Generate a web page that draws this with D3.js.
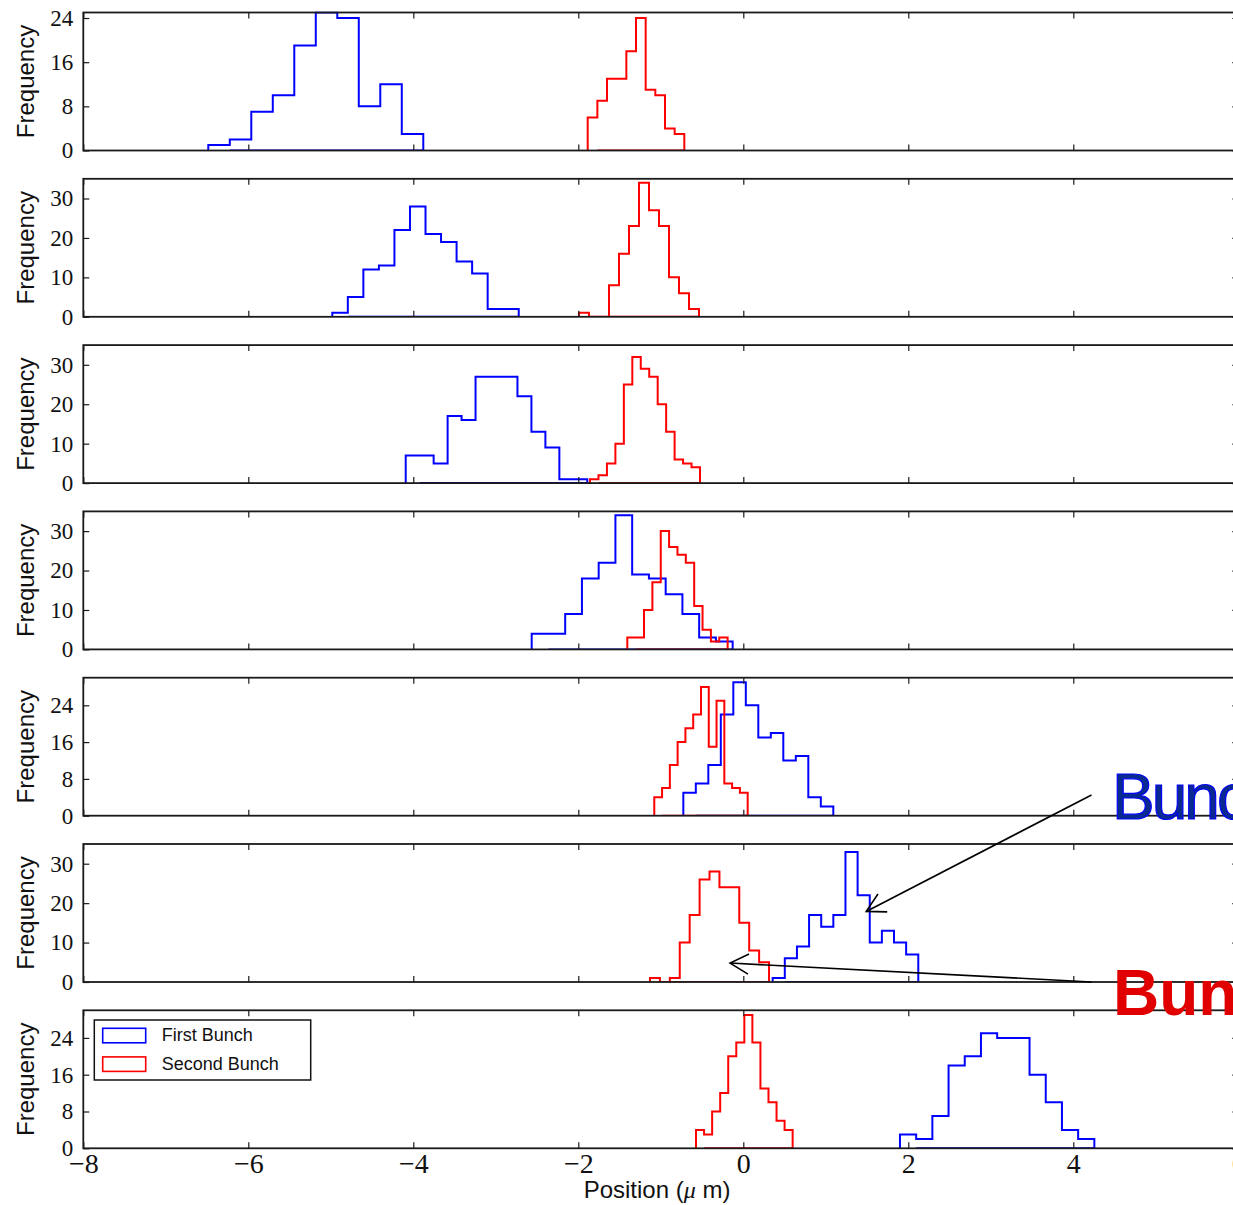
<!DOCTYPE html>
<html>
<head>
<meta charset="utf-8">
<script src="https://cdn.jsdelivr.net/npm/d3@7"></script>
<style>
  html, body { margin: 0; padding: 0; background: #fff; overflow: hidden; }
  svg { display: block; }
</style>
</head>
<body>
<svg id="chart" width="1233" height="1205"></svg>
<script>
// ---------------- DATA ----------------
const xTicks = [-8, -6, -4, -2, 0, 2, 4, 6];
const panelYMax = [25, 35, 35, 35, 30, 35, 30];
const panelYTicks = [
  [0, 8, 16, 24], [0, 10, 20, 30], [0, 10, 20, 30], [0, 10, 20, 30],
  [0, 8, 16, 24], [0, 10, 20, 30], [0, 8, 16, 24]
];
const seriesNames = ["First Bunch", "Second Bunch"];

// First bunch: histogram range and counts per panel
const firstStart = [-6.485, -4.982, -4.092, -2.565, -0.727, 0.356, 1.899];
const firstEnd   = [-3.879, -2.722, -1.891, -0.129, 1.091, 2.121, 4.255];
const firstCounts = [
  [1, 2, 7, 10, 19, 25, 24, 8, 12, 3],
  [1, 5, 12, 13, 22, 28, 21, 19, 14, 11, 2, 2],
  [7, 7, 5, 17, 16, 27, 27, 27, 22, 13, 9, 1, 1],
  [4, 4, 9, 18, 22, 34, 19, 18, 14, 9, 3, 2],
  [5, 7, 11, 22, 29, 24, 17, 18, 12, 13, 4, 2],
  [1, 6, 9, 17, 14, 17, 33, 22, 10, 13, 10, 7],
  [3, 2, 7, 18, 20, 25, 24, 24, 16, 10, 4, 2]
];

// Second bunch
const secondStart = [-1.886, -1.992, -1.858, -1.406, -1.079, -1.131, -0.573];
const secondEnd   = [-0.715, -0.537, -0.525, -0.190, 0.053, 0.312, 0.598];
const secondCounts = [
  [6, 9, 13, 13, 18, 24, 11, 10, 4, 3],
  [1, 0, 0, 8, 16, 23, 34, 27, 23, 10, 6, 2],
  [1, 2, 5, 10, 25, 32, 29, 27, 20, 13, 6, 5, 4],
  [3, 3, 10, 17, 30, 26, 24, 22, 11, 5, 2, 3],
  [4, 6, 11, 16, 19, 22, 28, 15, 25, 7, 6, 5],
  [1, 0, 1, 10, 17, 26, 28, 24, 24, 15, 8, 5],
  [4, 3, 8, 12, 20, 23, 29, 23, 13, 10, 6, 4]
];

// Annotations (panel 6, data coordinates of arrow tips)
const annotTips = [[1.49, 17.9], [-0.16, 4.8]];
const annotLabels = ["Bunch 1", "Bunch 2"];

// ---------------- LAYOUT ----------------
const svg = d3.select("#chart");
const W = 1233, H = 1205;
const left = 83.3, right = 1238.3;
const top0 = 12.5, pitch = 166.3, ph = 138;
const colors = ["#0000ff", "#ff0000"];
const spineColor = "#1a1a1a";

const x = d3.scaleLinear().domain([-8, 6]).range([left, right]);

svg.append("rect").attr("width", W).attr("height", H).attr("fill", "#fff");

function histPoints(start, end, counts) {
  const n = counts.length;
  const w = (end - start) / n;
  const e = d3.range(n + 1).map(i => start + i * w);
  const pts = [[e[0], 0]];
  counts.forEach((c, i) => { pts.push([e[i], c]); pts.push([e[i + 1], c]); });
  pts.push([e[n], 0]);
  pts.push([e[1], 0]);
  return pts;
}

const panels = [];
for (let p = 0; p < 7; p++) {
  const t = top0 + p * pitch;
  const b = t + ph;
  const y = d3.scaleLinear().domain([0, panelYMax[p]]).range([b, t]);
  panels.push({ t, b, y });
  const g = svg.append("g");

  const cid = "clip" + p;
  svg.append("clipPath").attr("id", cid).append("rect")
    .attr("x", left).attr("y", t - 1).attr("width", right - left).attr("height", ph + 1);

  const line = d3.line().x(d => x(d[0])).y(d => y(d[1]));
  const hg = g.append("g").attr("clip-path", `url(#${cid})`);
  hg.append("path").datum(histPoints(firstStart[p], firstEnd[p], firstCounts[p]))
    .attr("d", line).attr("fill", "none").attr("stroke", colors[0])
    .attr("stroke-width", 2).attr("stroke-linejoin", "miter");
  hg.append("path").datum(histPoints(secondStart[p], secondEnd[p], secondCounts[p]))
    .attr("d", line).attr("fill", "none").attr("stroke", colors[1])
    .attr("stroke-width", 2).attr("stroke-linejoin", "miter");

  const last = p === 6;
  const axB = d3.axisBottom(x).tickValues(xTicks).tickSizeInner(-6).tickSizeOuter(0).tickPadding(5);
  if (!last) axB.tickFormat("");
  const gb = g.append("g").attr("transform", `translate(0,${b})`).call(axB);
  const axT = d3.axisTop(x).tickValues(xTicks).tickSizeInner(-6).tickSizeOuter(0).tickFormat("");
  const gt = g.append("g").attr("transform", `translate(0,${t})`).call(axT);
  const axL = d3.axisLeft(y).tickValues(panelYTicks[p]).tickSizeInner(-6).tickSizeOuter(0).tickPadding(10);
  const gl = g.append("g").attr("transform", `translate(${left},0)`).call(axL);
  const axR = d3.axisRight(y).tickValues(panelYTicks[p]).tickSizeInner(-6).tickSizeOuter(0).tickFormat("");
  const gr = g.append("g").attr("transform", `translate(${right},0)`).call(axR);
  [gb, gt, gl, gr].forEach(a => {
    a.select(".domain").remove();
    a.selectAll(".tick line").attr("stroke", spineColor).attr("stroke-width", 1.2);
  });
  gl.selectAll(".tick text").attr("font-family", "'Liberation Serif', 'Times New Roman', serif")
    .attr("font-size", 23).attr("fill", "#111");
  gb.selectAll(".tick text").attr("font-family", "'Liberation Serif', 'Times New Roman', serif")
    .attr("font-size", 28).attr("fill", "#111");

  g.append("rect").attr("x", left).attr("y", t).attr("width", right - left).attr("height", ph)
    .attr("fill", "none").attr("stroke", spineColor).attr("stroke-width", 1.8);

  svg.append("text")
    .attr("transform", `translate(34,${(t + b) / 2}) rotate(-90)`)
    .attr("text-anchor", "middle")
    .attr("font-family", "'Liberation Sans', Arial, sans-serif")
    .attr("font-size", 24).attr("fill", "#111")
    .text("Frequency");
}

// x label
const xl = svg.append("text")
  .attr("x", 657).attr("y", 1198)
  .attr("text-anchor", "middle")
  .attr("font-family", "'Liberation Sans', Arial, sans-serif")
  .attr("font-size", 24).attr("fill", "#111");
xl.append("tspan").text("Position (");
xl.append("tspan").attr("font-family", "'Liberation Serif', serif").attr("font-style", "italic").text("μ");
xl.append("tspan").text(" m)");

// legend in last panel
const lg = svg.append("g");
lg.append("rect").attr("x", 94.3).attr("y", 1020).attr("width", 216.4).attr("height", 60)
  .attr("fill", "#fff").attr("stroke", "#111").attr("stroke-width", 1.5);
seriesNames.forEach((name, i) => {
  const yy = 1028.3 + i * 28.6;
  lg.append("rect").attr("x", 102.7).attr("y", yy).attr("width", 43).attr("height", 14.5)
    .attr("fill", "none").attr("stroke", colors[i]).attr("stroke-width", 1.6);
  lg.append("text").attr("x", 161.7).attr("y", yy + 13)
    .attr("font-family", "'Liberation Sans', Arial, sans-serif")
    .attr("font-size", 18).attr("fill", "#111").text(name);
});

// annotations in panel 6
const y6 = panels[5].y;
const starts = [[1091.5, 795], [1091.5, 982]];
const ag = svg.append("g").attr("stroke", "#000").attr("stroke-width", 1.6).attr("fill", "none");
annotTips.forEach((tip, i) => {
  const tx = x(tip[0]), ty = y6(tip[1]);
  const [sx, sy] = starts[i];
  ag.append("line").attr("x1", sx).attr("y1", sy).attr("x2", tx).attr("y2", ty);
  const ang = Math.atan2(sy - ty, sx - tx);
  const L = 21, A = 0.5;
  ag.append("path").attr("d",
    `M${tx + L * Math.cos(ang + A)},${ty + L * Math.sin(ang + A)} L${tx},${ty} L${tx + L * Math.cos(ang - A)},${ty + L * Math.sin(ang - A)}`);
});
svg.append("text").attr("x", 1112).attr("y", 819)
  .attr("font-family", "'Liberation Sans', Arial, sans-serif").attr("font-size", 64)
  .attr("letter-spacing", -3)
  .attr("fill", "#0b2a8f").attr("stroke", "#0000ff").attr("stroke-width", 1.2)
  .text(annotLabels[0]);
svg.append("text").attr("x", 1113).attr("y", 1015)
  .attr("font-family", "'Liberation Sans', Arial, sans-serif").attr("font-size", 64)
  .attr("font-weight", "bold").attr("fill", "#e00000")
  .text(annotLabels[1]);
</script>
</body>
</html>
